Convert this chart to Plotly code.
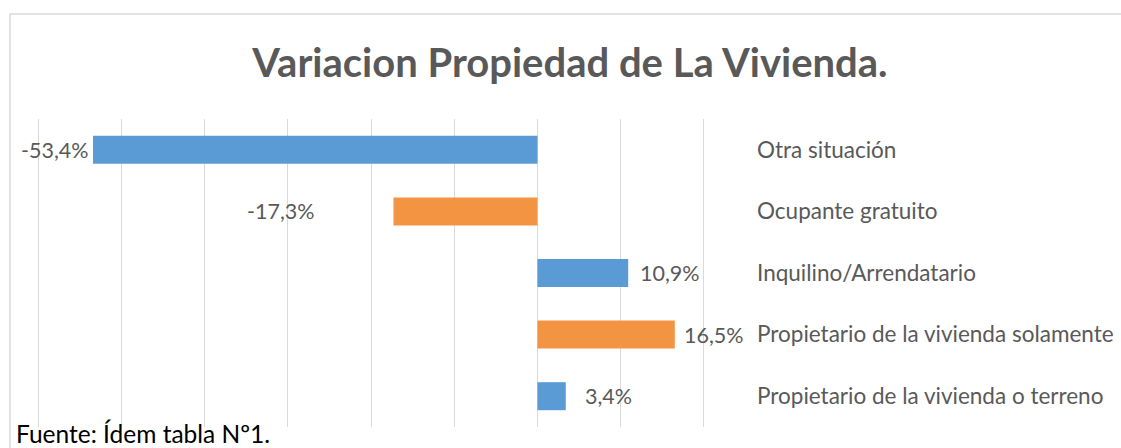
import plotly.graph_objects as go

categories = [
    "Otra situación",
    "Ocupante gratuito",
    "Inquilino/Arrendatario",
    "Propietario de la vivienda solamente",
    "Propietario de la vivienda o terreno",
]
variation = [-53.4, -17.3, 10.9, 16.5, 3.4]

BLUE = "#5B9BD5"
ORANGE = "#F39443"
bar_colors = [BLUE, ORANGE, BLUE, ORANGE, BLUE]
TXT = "#595959"
FONT = "Lato"

W, H = 1121, 448
ml, mr, mt, mb = 36, 415, 119, 21

fig = go.Figure()
fig.add_trace(go.Bar(
    x=variation, y=categories, orientation="h",
    width=0.455,
    marker=dict(color=bar_colors, line=dict(width=0)),
    hoverinfo="x+y",
))

# data labels, nudged like the original
label_shift = [-2, -76, 10, 7, 17]
for v, c, s in zip(variation, categories, label_shift):
    fig.add_annotation(
        x=v, y=c, text=f"{v:.1f}%".replace(".", ","),
        showarrow=False, xanchor="right" if v < 0 else "left",
        xshift=s, font=dict(family=FONT, size=21.5, color=TXT),
    )

pw, ph = W - ml - mr, H - mt - mb
# outer chart border
fig.add_shape(
    type="rect", xref="paper", yref="paper",
    x0=(10 - ml) / pw, x1=(W + 20 - ml) / pw,
    y0=-(H + 20 - (H - mb)) / ph, y1=1 + (mt - 14) / ph,
    line=dict(color="#D9D9D9", width=1.5), fillcolor="rgba(0,0,0,0)", layer="below",
)

fig.add_annotation(
    xref="paper", yref="paper", x=(14 - ml) / pw, y=-(433 - (H - mb)) / ph,
    xanchor="left", yanchor="middle", showarrow=False,
    text="Fuente: Ídem tabla Nº1.", font=dict(family=FONT, size=24.5, color="#000000"),
)

fig.update_layout(
    width=W, height=H,
    margin=dict(l=ml, r=mr, t=mt, b=mb),
    paper_bgcolor="white", plot_bgcolor="white",
    showlegend=False,
    title=dict(
        text="<b>Variacion Propiedad de La Vivienda.</b>",
        x=570 / W, xanchor="center", y=1 - 63 / H, yanchor="middle",
        font=dict(family=FONT, size=40, color=TXT),
    ),
    xaxis=dict(
        range=[-60.25, 20.25], dtick=10, showgrid=True, gridcolor="#D9D9D9", gridwidth=1,
        zeroline=True, zerolinecolor="#D9D9D9", zerolinewidth=1,
        showticklabels=False, showline=False, fixedrange=True, automargin=False,
    ),
    yaxis=dict(
        categoryorder="array", categoryarray=categories[::-1],
        side="right", showgrid=False, showline=False, zeroline=False,
        ticks="", ticklabelstandoff=50, automargin=False,
        tickfont=dict(family=FONT, size=22.5, color=TXT),
    ),
)

fig.write_html(
    "out.html",
    config={"displayModeBar": False},
    post_script="document.body.style.margin='0';",
)
